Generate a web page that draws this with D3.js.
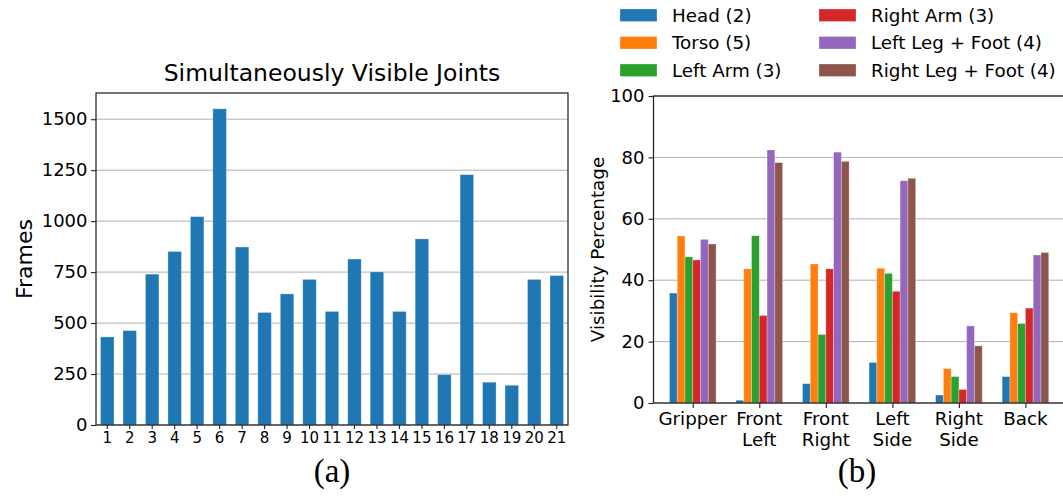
<!DOCTYPE html>
<html>
<head>
<meta charset="utf-8">
<script src="https://cdn.jsdelivr.net/npm/d3@7"></script>
<style>
  body { margin: 0; background: #fff; }
  svg { display: block; font-family: "DejaVu Sans", sans-serif; }
</style>
</head>
<body>
<svg width="1063" height="496"></svg>
<script>
// (a) simultaneously visible joints
const jointCounts = d3.range(1, 22);
const frames = [432, 463, 740, 851, 1022, 1551, 873, 552, 643, 714, 557, 814, 751, 557, 913, 247, 1228, 210, 195, 714, 733];
const framesTicks = [0, 250, 500, 750, 1000, 1250, 1500];

// (b) visibility per view
const views = [["Gripper"], ["Front", "Left"], ["Front", "Right"], ["Left", "Side"], ["Right", "Side"], ["Back"]];
const parts = ["Head (2)", "Torso (5)", "Left Arm (3)", "Right Arm (3)", "Left Leg + Foot (4)", "Right Leg + Foot (4)"];
const head = [35.8, 0.9, 6.3, 13.2, 2.6, 8.6];
const torso = [54.4, 43.7, 45.3, 43.9, 11.2, 29.4];
const leftArm = [47.6, 54.5, 22.3, 42.2, 8.6, 25.9];
const rightArm = [46.6, 28.5, 43.7, 36.4, 4.4, 30.9];
const leftLeg = [53.3, 82.4, 81.7, 72.4, 25.1, 48.2];
const rightLeg = [51.8, 78.3, 78.7, 73.2, 18.6, 49.0];
const visTicks = [0, 20, 40, 60, 80, 100];

const colors = ["#1f77b4", "#ff7f0e", "#2ca02c", "#d62728", "#9467bd", "#8c564b"];
const gridColor = "#b0b0b0";
const FONT = "DejaVu Sans, sans-serif";

const svg = d3.select("svg");

function styleTicks(g, size) {
  g.attr("font-family", FONT);
  g.selectAll("text").attr("font-size", size).attr("fill", "#000");
  g.selectAll(".tick line").attr("stroke", "#222").attr("stroke-width", 1.1);
}

/********************************************************************/
// left chart
/********************************************************************/
const a = { left: 96, right: 568, top: 93, bottom: 425 };

const xA = d3.scaleBand()
  .domain(jointCounts)
  .range([a.left, a.right])
  .paddingInner(0.4)
  .paddingOuter(0.2);

const yA = d3.scaleLinear()
  .domain([0, d3.max(frames) * 1.05])
  .range([a.bottom, a.top]);

const gA = svg.append("g");

// grid
gA.selectAll("line.grid")
  .data(framesTicks)
  .enter()
  .append("line")
  .attr("x1", a.left)
  .attr("x2", a.right)
  .attr("y1", d => yA(d))
  .attr("y2", d => yA(d))
  .attr("stroke", gridColor)
  .attr("stroke-width", 1);

gA.selectAll("rect.bar")
  .data(frames)
  .enter()
  .append("rect")
  .attr("x", (d, i) => xA(jointCounts[i]))
  .attr("width", xA.bandwidth())
  .attr("y", d => yA(d))
  .attr("height", d => a.bottom - yA(d))
  .attr("fill", colors[0])
  .attr("stroke", "rgba(255,255,255,0.35)")
  .attr("stroke-width", 0.8);

gA.append("g")
  .attr("transform", `translate(0,${a.bottom})`)
  .call(d3.axisBottom(xA).tickSize(4).tickPadding(3))
  .call(g => styleTicks(g, 15));

gA.append("g")
  .attr("transform", `translate(${a.left},0)`)
  .call(d3.axisLeft(yA).tickValues(framesTicks).tickFormat(d3.format("d")).tickSize(5).tickPadding(3.5))
  .call(g => styleTicks(g, 18));

gA.selectAll(".domain").remove();
gA.append("rect")
  .attr("x", a.left)
  .attr("y", a.top)
  .attr("width", a.right - a.left)
  .attr("height", a.bottom - a.top)
  .attr("fill", "none")
  .attr("stroke", "#222")
  .attr("stroke-width", 1.25);

gA.append("text")
  .attr("x", (a.left + a.right) / 2)
  .attr("y", 81)
  .attr("text-anchor", "middle")
  .attr("font-size", 23.5)
  .text("Simultaneously Visible Joints");

gA.append("text")
  .attr("transform", `translate(32,${(a.top + a.bottom) / 2}) rotate(-90)`)
  .attr("text-anchor", "middle")
  .attr("font-size", 22)
  .text("Frames");

svg.append("text")
  .attr("x", 332)
  .attr("y", 482)
  .attr("text-anchor", "middle")
  .attr("font-family", "Liberation Serif, serif")
  .attr("font-size", 33)
  .text("(a)");

/********************************************************************/
// right chart
/********************************************************************/
const b = { left: 653.5, right: 1064.7, top: 96, bottom: 403 };
const series = [head, torso, leftArm, rightArm, leftLeg, rightLeg];
const barW = 0.7 / series.length;

const xB = d3.scaleLinear()
  .domain([-0.59, 5.59])
  .range([b.left, b.right]);

const yB = d3.scaleLinear()
  .domain([0, 100])
  .range([b.bottom, b.top]);

const gB = svg.append("g");

gB.selectAll("line.grid")
  .data(visTicks)
  .enter()
  .append("line")
  .attr("x1", b.left)
  .attr("x2", b.right)
  .attr("y1", d => yB(d))
  .attr("y2", d => yB(d))
  .attr("stroke", gridColor)
  .attr("stroke-width", 1);

series.forEach((values, s) => {
  gB.selectAll(`rect.s${s}`)
    .data(values)
    .enter()
    .append("rect")
    .attr("x", (d, i) => xB(i - 0.35 + s * barW))
    .attr("width", xB(barW) - xB(0))
    .attr("y", d => yB(d))
    .attr("height", d => b.bottom - yB(d))
    .attr("fill", colors[s])
    .attr("stroke", "rgba(255,255,255,0.35)")
    .attr("stroke-width", 0.8);
});

gB.append("g")
  .attr("transform", `translate(0,${b.bottom})`)
  .call(d3.axisBottom(xB).tickValues(d3.range(views.length)).tickSize(5).tickFormat(""))
  .call(g => styleTicks(g, 18));

views.forEach((lines, i) => {
  const t = gB.append("text")
    .attr("x", xB(i))
    .attr("y", b.bottom + 22)
    .attr("text-anchor", "middle")
    .attr("font-size", 18.3);
  lines.forEach((line, j) => {
    t.append("tspan")
      .attr("x", xB(i))
      .attr("dy", j === 0 ? 0 : 20.7)
      .text(line);
  });
});

gB.append("g")
  .attr("transform", `translate(${b.left},0)`)
  .call(d3.axisLeft(yB).tickValues(visTicks).tickSize(5).tickPadding(4))
  .call(g => styleTicks(g, 18));

gB.selectAll(".domain").remove();
gB.append("rect")
  .attr("x", b.left)
  .attr("y", b.top)
  .attr("width", b.right - b.left)
  .attr("height", b.bottom - b.top)
  .attr("fill", "none")
  .attr("stroke", "#222")
  .attr("stroke-width", 1.25);

gB.append("text")
  .attr("transform", `translate(603.5,${(b.top + b.bottom) / 2}) rotate(-90)`)
  .attr("text-anchor", "middle")
  .attr("font-size", 18.3)
  .text("Visibility Percentage");

svg.append("text")
  .attr("x", 857)
  .attr("y", 482)
  .attr("text-anchor", "middle")
  .attr("font-family", "Liberation Serif, serif")
  .attr("font-size", 33)
  .text("(b)");

// legend
const legend = svg.append("g");
parts.forEach((name, i) => {
  const col = Math.floor(i / 3);
  const row = i % 3;
  const lx = col === 0 ? 620 : 819;
  const ly = 15 + row * 27.5;
  legend.append("rect")
    .attr("x", lx)
    .attr("y", ly - 6)
    .attr("width", 37)
    .attr("height", 12.5)
    .attr("fill", colors[i])
    .attr("stroke", "rgba(255,255,255,0.35)")
    .attr("stroke-width", 0.8);
  legend.append("text")
    .attr("x", lx + 52)
    .attr("y", ly + 6.5)
    .attr("font-size", 18.3)
    .text(name);
});
</script>
</body>
</html>
